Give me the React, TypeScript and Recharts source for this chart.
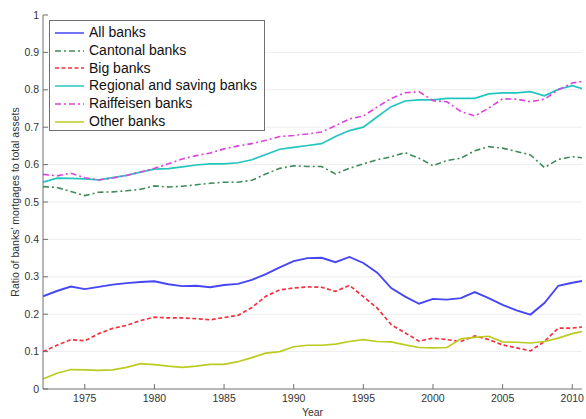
import { LineChart, Line, XAxis, YAxis, CartesianGrid, Legend } from 'recharts'

const years = [
  1972, 1973, 1974, 1975, 1976, 1977, 1978, 1979, 1980, 1981,
  1982, 1983, 1984, 1985, 1986, 1987, 1988, 1989, 1990, 1991,
  1992, 1993, 1994, 1995, 1996, 1997, 1998, 1999, 2000, 2001,
  2002, 2003, 2004, 2005, 2006, 2007, 2008, 2009, 2010, 2011,
]

const allBanks = [
  0.248, 0.262, 0.274, 0.267, 0.273, 0.279, 0.283, 0.286, 0.288, 0.28,
  0.275, 0.276, 0.272, 0.278, 0.281, 0.292, 0.307, 0.325, 0.342, 0.35,
  0.351, 0.339, 0.353, 0.337, 0.311, 0.27, 0.247, 0.228, 0.241, 0.239,
  0.243, 0.259, 0.243, 0.225, 0.21, 0.199, 0.23, 0.276, 0.284, 0.291,
]

const cantonalBanks = [
  0.541, 0.539, 0.528, 0.517, 0.526, 0.527, 0.53, 0.534, 0.543, 0.54,
  0.542, 0.546, 0.55, 0.553, 0.553, 0.558, 0.575, 0.59, 0.597, 0.595,
  0.595, 0.575, 0.59, 0.602, 0.613, 0.621, 0.632, 0.617, 0.597, 0.611,
  0.617, 0.637, 0.648, 0.644, 0.635, 0.626, 0.592, 0.614, 0.621, 0.617,
]

const bigBanks = [
  0.1, 0.117, 0.132, 0.129, 0.148, 0.162, 0.17, 0.183, 0.192, 0.19,
  0.19, 0.188, 0.185, 0.191, 0.197, 0.218, 0.248, 0.265, 0.27, 0.273,
  0.272, 0.261, 0.277, 0.247, 0.216, 0.172, 0.15, 0.128, 0.136, 0.132,
  0.127, 0.142, 0.132, 0.118, 0.11, 0.102, 0.127, 0.163, 0.163, 0.167,
]

const regionalBanks = [
  0.553, 0.564, 0.563, 0.562, 0.559, 0.565, 0.571, 0.58, 0.588, 0.589,
  0.594, 0.599, 0.602, 0.602, 0.605, 0.613, 0.627, 0.641, 0.646, 0.651,
  0.656, 0.675, 0.691, 0.7, 0.728, 0.755, 0.77, 0.773, 0.773, 0.777,
  0.777, 0.777, 0.789, 0.792, 0.792, 0.795, 0.784, 0.801, 0.811, 0.8,
]

const raiffeisenBanks = [
  0.574, 0.57, 0.577, 0.565, 0.559, 0.564, 0.571, 0.58, 0.59, 0.602,
  0.615, 0.624, 0.631, 0.642, 0.65, 0.656, 0.665, 0.675, 0.678, 0.682,
  0.687, 0.704, 0.722, 0.73, 0.754, 0.777, 0.792, 0.795, 0.771, 0.768,
  0.742, 0.73, 0.751, 0.776, 0.775, 0.768, 0.775, 0.8, 0.818, 0.824,
]

const otherBanks = [
  0.027, 0.042, 0.052, 0.051, 0.05, 0.051, 0.058, 0.068, 0.065, 0.061,
  0.058, 0.061, 0.066, 0.066, 0.073, 0.084, 0.096, 0.1, 0.113, 0.117,
  0.117, 0.12, 0.127, 0.132, 0.127, 0.126, 0.118, 0.111, 0.11, 0.111,
  0.134, 0.138, 0.141, 0.126, 0.125, 0.123, 0.127, 0.136, 0.148, 0.156,
]

const xTicks = [1975, 1980, 1985, 1990, 1995, 2000, 2005, 2010]
const yTicks = [0, 0.1, 0.2, 0.3, 0.4, 0.5, 0.6, 0.7, 0.8, 0.9, 1]

const series = [
  { key: 'all', name: 'All banks', color: '#4646f4', dash: undefined, width: 1.9 },
  { key: 'cantonal', name: 'Cantonal banks', color: '#3f8a58', dash: '6 3 2 3', width: 1.6 },
  { key: 'big', name: 'Big banks', color: '#f4303e', dash: '4 2.5', width: 1.7 },
  { key: 'regional', name: 'Regional and saving banks', color: '#22c6be', dash: undefined, width: 1.7 },
  { key: 'raiffeisen', name: 'Raiffeisen banks', color: '#dc44dc', dash: '6 3 2 3', width: 1.6 },
  { key: 'other', name: 'Other banks', color: '#bccb20', dash: undefined, width: 1.7 },
]

const data = years.map((year, i) => ({
  year,
  all: allBanks[i],
  cantonal: cantonalBanks[i],
  big: bigBanks[i],
  regional: regionalBanks[i],
  raiffeisen: raiffeisenBanks[i],
  other: otherBanks[i],
}))

const FONT = '"Liberation Sans", Arial, Helvetica, sans-serif'
const AXIS = '#707070'
const TEXT = '#333333'
const TICK_LEN = 5

const fmtY = (v: number) => (v === 0 || v === 1 ? String(v) : v.toFixed(1))

// matlab style ticks: short marks pointing into the plot box
function BottomTick({ x, y, payload }: any) {
  return (
    <g>
      <line x1={x} y1={y} x2={x} y2={y - TICK_LEN} stroke={AXIS} />
      <text x={x} y={y + 13} textAnchor="middle" fontSize={10.5} fontFamily={FONT} fill={TEXT}>
        {payload.value}
      </text>
    </g>
  )
}

function TopTick({ x, y }: any) {
  return <line x1={x} y1={y} x2={x} y2={y + TICK_LEN} stroke={AXIS} />
}

function LeftTick({ x, y, payload }: any) {
  return (
    <g>
      <line x1={x} y1={y} x2={x + TICK_LEN} y2={y} stroke={AXIS} />
      <text x={x - 4} y={y} dy="0.35em" textAnchor="end" fontSize={10.5} fontFamily={FONT} fill={TEXT}>
        {fmtY(payload.value)}
      </text>
    </g>
  )
}

function RightTick({ x, y }: any) {
  return <line x1={x} y1={y} x2={x - TICK_LEN} y2={y} stroke={AXIS} />
}

function LegendBox() {
  return (
    <div
      style={{
        width: 216,
        height: 111,
        boxSizing: 'border-box',
        border: `1px solid ${AXIS}`,
        background: '#fff',
        paddingTop: 3,
        fontFamily: FONT,
        fontSize: 14,
        color: '#111',
      }}
    >
      {series.map((s) => (
        <div key={s.key} style={{ display: 'flex', alignItems: 'center', height: 17.8 }}>
          <svg width={39} height={10} style={{ flex: 'none' }}>
            <line x1={5} y1={5} x2={34} y2={5} stroke={s.color} strokeWidth={1.5} strokeDasharray={s.dash} />
          </svg>
          <span style={{ whiteSpace: 'nowrap', lineHeight: '17.8px' }}>{s.name}</span>
        </div>
      ))}
    </div>
  )
}

export default function App() {
  return (
    <div style={{ position: 'absolute', left: 0, top: 0, background: '#fff' }}>
      <LineChart
        width={586}
        height={419}
        data={data}
        margin={{ top: 15, right: 4, left: 0, bottom: 0 }}
        style={{ fontFamily: FONT }}
      >
        <CartesianGrid
          xAxisId="bottom"
          yAxisId="left"
          vertical={false}
          stroke="#ededed"
          horizontalValues={yTicks.slice(1, -1)}
        />
        <XAxis
          xAxisId="bottom"
          type="number"
          dataKey="year"
          domain={[1972, 2010.7]}
          allowDataOverflow
          ticks={xTicks}
          interval={0}
          height={30}
          tickSize={0}
          tickMargin={0}
          tickLine={false}
          axisLine={{ stroke: AXIS }}
          tick={<BottomTick />}
          label={{
            value: 'Year',
            position: 'insideBottom',
            offset: 3,
            style: { fontSize: 10.5, fontFamily: FONT, fill: TEXT },
          }}
        />
        <XAxis
          xAxisId="top"
          orientation="top"
          type="number"
          dataKey="year"
          domain={[1972, 2010.7]}
          allowDataOverflow
          ticks={xTicks}
          interval={0}
          height={0}
          tickSize={0}
          tickMargin={0}
          tickLine={false}
          axisLine={{ stroke: AXIS }}
          tick={<TopTick />}
        />
        <YAxis
          yAxisId="left"
          type="number"
          domain={[0, 1]}
          ticks={yTicks}
          interval={0}
          width={43}
          tickSize={0}
          tickMargin={0}
          tickLine={false}
          axisLine={{ stroke: AXIS }}
          tick={<LeftTick />}
          label={{
            value: "Ratio of banks' mortgages to total assets",
            angle: -90,
            position: 'insideLeft',
            offset: 15,
            textAnchor: 'middle',
            style: { fontSize: 10.5, fontFamily: FONT, fill: TEXT, textAnchor: 'middle' },
          }}
        />
        <YAxis
          yAxisId="right"
          orientation="right"
          type="number"
          domain={[0, 1]}
          ticks={yTicks}
          interval={0}
          width={0}
          tickSize={0}
          tickMargin={0}
          tickLine={false}
          axisLine={{ stroke: AXIS }}
          tick={<RightTick />}
        />
        <Legend
          layout="vertical"
          align="center"
          verticalAlign="middle"
          wrapperStyle={{ left: 49, top: 20, width: 216 }}
          content={<LegendBox />}
        />
        {series.map((s) => (
          <Line
            key={s.key}
            xAxisId="bottom"
            yAxisId="left"
            type="linear"
            dataKey={s.key}
            name={s.name}
            stroke={s.color}
            strokeWidth={s.width}
            strokeDasharray={s.dash}
            dot={false}
            activeDot={false}
            isAnimationActive={false}
          />
        ))}
      </LineChart>
    </div>
  )
}
